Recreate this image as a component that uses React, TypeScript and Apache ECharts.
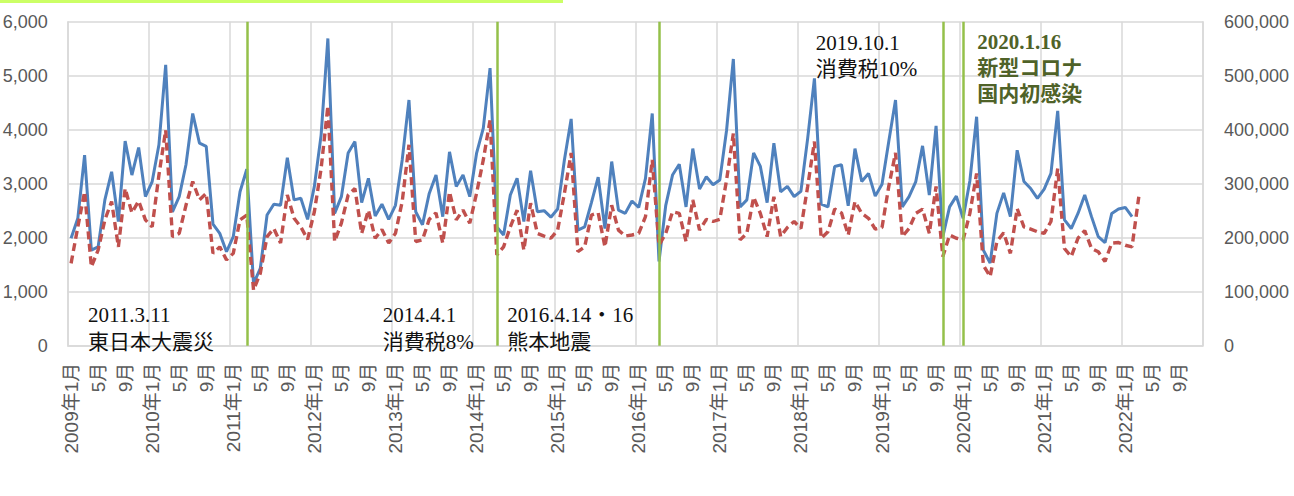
import React, { useEffect, useRef } from "react";
import * as echarts from "echarts";

// ---- data ----
const years = [2009, 2010, 2011, 2012, 2013, 2014, 2015, 2016, 2017, 2018, 2019, 2020, 2021, 2022];
const monthNums = [1, 2, 3, 4, 5, 6, 7, 8, 9, 10, 11, 12];
const categories: string[] = [];
for (const y of years) for (const m of monthNums) categories.push(`${y}年${m}月`);

// left axis series (blue, solid)
const blueValues = [
  1990, 2360, 3530, 1770, 1830, 2700, 3220, 2300, 3790, 3160, 3670, 2760,
  3040, 3720, 5200, 2480, 2760, 3350, 4300, 3750, 3690, 2250, 2080, 1740,
  2020, 2850, 3270, 1150, 1430, 2420, 2620, 2600, 3480, 2700, 2730, 2340,
  2950, 3900, 5690, 2450, 2760, 3570, 3780, 2650, 3100, 2400, 2620, 2340,
  2600, 3440, 4550, 2480, 2240, 2820, 3160, 2390, 3590, 2950, 3160, 2760,
  3560, 4030, 5140, 2200, 2050, 2790, 3100, 2300, 3240, 2480, 2500, 2380,
  2530, 3440, 4200, 2140, 2200, 2650, 3120, 2170, 3410, 2510, 2450, 2680,
  2560, 3100, 4300, 1560, 2600, 3160, 3360, 2570, 3650, 2900, 3130, 2980,
  3070, 3990, 5310, 2570, 2700, 3570, 3320, 2650, 3750, 2850, 2950, 2760,
  2860, 3840, 4950, 2620, 2570, 3320, 3350, 2590, 3650, 3040, 3190, 2770,
  2990, 3780, 4550, 2570, 2760, 3040, 3700, 2790, 4070, 2020, 2570, 2770,
  2360, 3050, 4240, 1770, 1530, 2450, 2830, 2390, 3620, 3040, 2910, 2730,
  2900, 3190, 4350, 2330, 2170, 2450, 2790, 2390, 2020, 1910, 2450, 2530,
  2560, 2390,
];

// right axis series (red, dashed)
const redValues = [
  152500, 220000, 285000, 146000, 177000, 233000, 267000, 183000, 291000, 246000, 268000, 233000,
  220000, 316000, 399000, 202000, 208000, 260000, 304000, 270000, 282000, 171000, 183000, 159000,
  171000, 233000, 242000, 103000, 134000, 202000, 217000, 190000, 279000, 236000, 220000, 197000,
  248000, 328000, 444000, 193000, 227000, 279000, 291000, 208000, 251000, 199000, 215000, 190000,
  208000, 267000, 372000, 193000, 196000, 234000, 246000, 190000, 285000, 233000, 251000, 227000,
  282000, 344000, 418000, 168000, 183000, 220000, 251000, 177000, 264000, 208000, 203000, 199000,
  214000, 282000, 357000, 174000, 183000, 242000, 246000, 183000, 260000, 214000, 203000, 205000,
  208000, 239000, 344000, 186000, 208000, 248000, 245000, 193000, 270000, 214000, 234000, 230000,
  234000, 307000, 393000, 196000, 208000, 275000, 245000, 202000, 276000, 202000, 219000, 230000,
  217000, 295000, 378000, 199000, 211000, 253000, 246000, 205000, 267000, 245000, 236000, 216000,
  219000, 295000, 357000, 202000, 217000, 245000, 253000, 208000, 295000, 165000, 205000, 199000,
  196000, 245000, 319000, 149000, 128000, 193000, 209000, 171000, 254000, 220000, 216000, 211000,
  208000, 230000, 328000, 180000, 165000, 199000, 213000, 180000, 174000, 156000, 190000, 191000,
  186000, 183000, 276000,
];

const eventMonths = ["2011年3月", "2014年4月", "2016年4月", "2019年10月", "2020年1月"];

const leftAxisMax = 6000;
const leftAxisStep = 1000;
const rightAxisMax = 600000;
const rightAxisStep = 100000;

const annotationTexts = [
  "2011.3.11\n東日本大震災",
  "2014.4.1\n消費税8%",
  "2016.4.14・16\n熊本地震",
  "2019.10.1\n消費税10%",
];
const covidText = "2020.1.16\n新型コロナ\n国内初感染";

const SERIF = "'Liberation Serif', 'Noto Sans CJK JP', serif";
const SANS = "'Liberation Sans', 'Noto Sans CJK JP', sans-serif";

export default function App() {
  const ref = useRef<HTMLDivElement>(null);

  useEffect(() => {
    const chart = echarts.init(ref.current!, null, { renderer: "svg" });
    const fmt = (v: number) => Number(v).toLocaleString("en-US");
    const gridColor = "#D9D9D9";

    const annPos = [
      [88, 301.7],
      [382.7, 301.7],
      [507.3, 301.7],
      [815.7, 30.3],
    ];

    chart.setOption({
      animation: false,
      backgroundColor: "#ffffff",
      grid: {
        left: 67.7,
        right: 91,
        top: 21.7,
        bottom: 150.3,
        containLabel: false,
        outerBoundsMode: "none",
      },
      xAxis: {
        type: "category",
        data: categories,
        boundaryGap: true,
        axisLine: { show: true, lineStyle: { color: gridColor, width: 1.5 } },
        axisTick: { show: false },
        axisLabel: {
          interval: 3,
          rotate: 90,
          margin: 17,
          color: "#595959",
          fontSize: 19,
          fontFamily: SANS,
          hideOverlap: false,
          formatter: (v: string) => (v.endsWith("年1月") ? v : v.replace(/^\d+年/, "")),
        },
        splitLine: { show: true, interval: 11, lineStyle: { color: gridColor, width: 1.5 } },
      },
      yAxis: [
        {
          type: "value",
          min: 0,
          max: leftAxisMax,
          interval: leftAxisStep,
          axisLine: { show: true, lineStyle: { color: gridColor, width: 1.5 } },
          axisTick: { show: false },
          axisLabel: { margin: 20, color: "#595959", fontSize: 18, fontFamily: SANS, formatter: fmt },
          splitLine: { show: true, lineStyle: { color: gridColor, width: 1.5 } },
        },
        {
          type: "value",
          min: 0,
          max: rightAxisMax,
          interval: rightAxisStep,
          position: "right",
          axisLine: { show: true, lineStyle: { color: gridColor, width: 1.5 } },
          axisTick: { show: false },
          axisLabel: { margin: 21, color: "#595959", fontSize: 18, fontFamily: SANS, formatter: fmt },
          splitLine: { show: false },
        },
      ],
      series: [
        {
          type: "line",
          yAxisIndex: 0,
          data: blueValues,
          symbol: "none",
          lineStyle: { color: "#4F81BD", width: 3 },
          silent: true,
          markLine: {
            silent: true,
            symbol: ["none", "none"],
            label: { show: false },
            lineStyle: { color: "#94C04A", width: 2.5, type: "solid" },
            data: eventMonths.map((m) => ({ xAxis: m })),
          },
        },
        {
          type: "line",
          yAxisIndex: 1,
          data: redValues,
          symbol: "none",
          lineStyle: { color: "#C0504D", width: 3.4, type: [8, 4.5] },
          silent: true,
        },
      ],
      graphic: [
        {
          type: "rect",
          shape: { x: 0, y: 0, width: 563, height: 3 },
          style: { fill: "#CCFF66" },
          z: 100,
        },
        ...annotationTexts.map((t, i) => ({
          type: "text",
          x: annPos[i][0],
          y: annPos[i][1],
          z: 100,
          style: {
            text: t,
            fontSize: 21,
            fontFamily: SERIF,
            fill: "#111111",
            lineHeight: i < 3 ? 26.6 : 26,
            verticalAlign: "top",
            align: "left",
          },
        })),
        {
          type: "text",
          x: 977.3,
          y: 28.7,
          z: 100,
          style: {
            text: covidText,
            fontSize: 21,
            fontWeight: "bold",
            fontFamily: SERIF,
            fill: "#4F6228",
            lineHeight: 26,
            verticalAlign: "top",
            align: "left",
          },
        },
      ],
    });

    return () => chart.dispose();
  }, []);

  return (
    <div
      ref={ref}
      style={{ position: "fixed", left: 0, top: 0, width: 1294, height: 496, background: "#fff" }}
    />
  );
}
